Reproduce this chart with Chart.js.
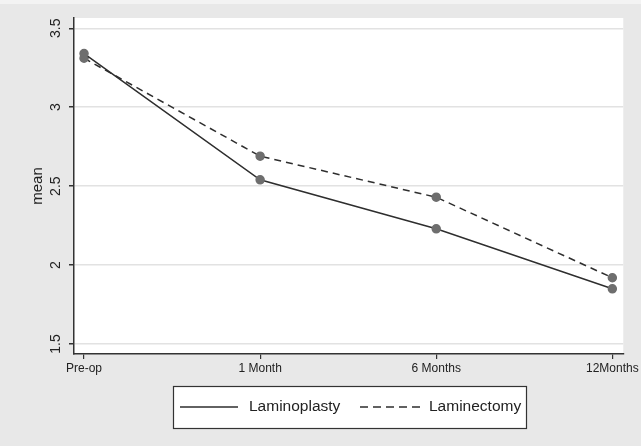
<!DOCTYPE html>
<html>
<head>
<meta charset="utf-8">
<script src="https://cdn.jsdelivr.net/npm/chart.js@4/dist/chart.umd.min.js"></script>
<style>
  body { margin: 0; background: #e8e8e8; }
  canvas { display: block; }
</style>
</head>
<body>
<canvas id="grafico" width="641" height="446"></canvas>
<script>
// datos
var momentos = ['Pre-op', '1 Month', '6 Months', '12Months'];
var laminoplastia = [3.34, 2.54, 2.23, 1.85];
var laminectomia = [3.31, 2.69, 2.43, 1.92];
var marcasY = [1.5, 2, 2.5, 3, 3.5];

function puntos(valores){
    var salida = new Array();
    valores.forEach(function(v, i){ salida.push({x: i, y: v}) });
    return salida;
}

// fondo blanco del area de trazado + etiquetas verticales del eje y + leyenda con marco
var extras = {
    id: 'extras',
    beforeDraw: function(chart){
        var c = chart.ctx, a = chart.chartArea;
        c.save();
        c.fillStyle = '#e8e8e8';
        c.fillRect(0, 0, chart.width, chart.height);
        c.fillStyle = '#f3f3f3';
        c.fillRect(0, 0, chart.width, 4);
        c.fillStyle = '#ffffff';
        c.fillRect(a.left, a.top, a.right - a.left, a.bottom - a.top);
        c.restore();
    },
    afterDraw: function(chart){
        var c = chart.ctx, y = chart.scales.y;
        c.save();
        c.fillStyle = '#222';
        c.font = '14px "Liberation Sans", Arial, sans-serif';
        c.textAlign = 'center';
        c.textBaseline = 'middle';
        y.ticks.forEach(function(t){
            var py = y.getPixelForValue(t.value);
            c.save();
            c.translate(56, py);
            c.rotate(-Math.PI / 2);
            c.fillText(String(t.value), 0, 0);
            c.restore();
        });
        c.save();
        c.translate(38, 186);
        c.rotate(-Math.PI / 2);
        c.font = '15px "Liberation Sans", Arial, sans-serif';
        c.fillText('mean', 0, 0);
        c.restore();

        // leyenda
        c.fillStyle = '#fff';
        c.fillRect(173, 386, 353, 42);
        c.strokeStyle = '#333';
        c.lineWidth = 1.2;
        c.strokeRect(173.5, 386.5, 353, 42);
        var ds = chart.data.datasets;
        c.strokeStyle = '#2e2e2e';
        c.lineWidth = 1.5;
        c.beginPath(); c.moveTo(180, 407); c.lineTo(238, 407); c.stroke();
        c.setLineDash([8, 5]);
        c.beginPath(); c.moveTo(360, 407); c.lineTo(421, 407); c.stroke();
        c.setLineDash([]);
        c.fillStyle = '#222';
        c.font = '15.5px "Liberation Sans", Arial, sans-serif';
        c.textAlign = 'left';
        c.fillText(ds[0].label, 249, 407);
        c.fillText(ds[1].label, 429, 407);
        c.restore();
    }
};

var ctx = document.getElementById('grafico');
var grafico = new Chart(ctx, {
    type: 'line',
    data: {
        datasets: [{
            label: 'Laminoplasty',
            data: puntos(laminoplastia),
            borderColor: '#2e2e2e',
            borderWidth: 1.5,
            pointBackgroundColor: '#6e6e6e',
            pointBorderColor: '#6e6e6e',
            pointRadius: 4,
            tension: 0
        }, {
            label: 'Laminectomy',
            data: puntos(laminectomia),
            borderColor: '#2e2e2e',
            borderWidth: 1.5,
            borderDash: [7, 5],
            pointBackgroundColor: '#6e6e6e',
            pointBorderColor: '#6e6e6e',
            pointRadius: 4,
            tension: 0
        }]
    },
    options: {
        responsive: false,
        animation: false,
        layout: { padding: { left: 0, top: 18, right: 16, bottom: 0 } },
        plugins: { legend: { display: false }, tooltip: { enabled: false } },
        scales: {
            x: {
                type: 'linear',
                min: -0.057,
                max: 3.062,
                afterBuildTicks: function(s){ s.ticks = momentos.map(function(m, i){ return {value: i} }) },
                afterFit: function(s){ s.height = 92 },
                ticks: {
                    autoSkip: false,
                    maxRotation: 0,
                    padding: 2,
                    color: '#222',
                    font: { family: '"Liberation Sans", Arial, sans-serif', size: 12 },
                    callback: function(v){ return momentos[v] }
                },
                grid: { drawOnChartArea: false, drawTicks: true, tickLength: 5, tickColor: '#333', lineWidth: 1.2 },
                border: { display: true, color: '#333', width: 1.5 }
            },
            y: {
                min: 1.437,
                max: 3.565,
                afterBuildTicks: function(s){ s.ticks = marcasY.map(function(v){ return {value: v} }) },
                afterFit: function(s){ s.width = 74 },
                ticks: { display: false },
                grid: { color: '#e2e2e2', lineWidth: 1.5, drawTicks: true, tickLength: 5, tickColor: '#333' },
                border: { display: true, color: '#333', width: 1.5 }
            }
        }
    },
    plugins: [extras]
});
</script>
</body>
</html>
